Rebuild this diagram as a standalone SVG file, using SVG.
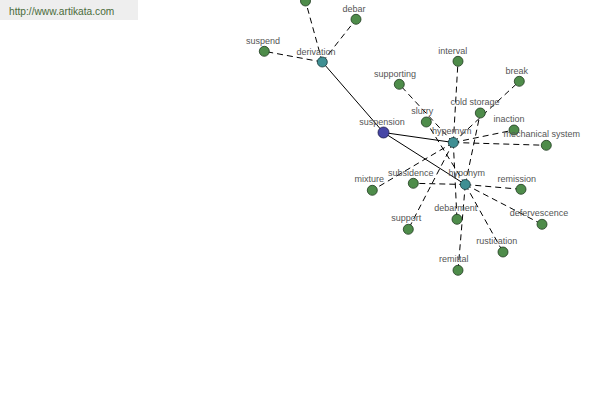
<svg xmlns="http://www.w3.org/2000/svg" width="600" height="400" viewBox="0 0 600 400">
<style>
.lbl{font-family:"Liberation Sans",Arial,sans-serif;font-size:9px;fill:#555;text-anchor:middle}
.g{fill:#4e8c4a;stroke:#1e3a1e;stroke-width:0.8}
.t{fill:#3f8f93;stroke:#1a3a3c;stroke-width:0.8}
.b{fill:#4646a6;stroke:#1c1c4a;stroke-width:0.8}
.d{stroke:#000;stroke-width:1;stroke-dasharray:6,4;fill:none}
.s{stroke:#000;stroke-width:1;fill:none}
</style>
<rect x="0" y="0" width="600" height="400" fill="#fff"/>
<rect x="0" y="0" width="138" height="20" fill="#eeeeee"/>
<text x="9" y="15" font-family="Liberation Sans,Arial,sans-serif" font-size="10.2" fill="#4a6b3a">http://www.artikata.com</text>
<g id="connectors">
<line class="s" x1="383.5" y1="132.5" x2="322.3" y2="62"/>
<line class="s" x1="383.5" y1="132.5" x2="453.3" y2="142.5"/>
<line class="s" x1="383.5" y1="132.5" x2="465.3" y2="184.5"/>
<line class="d" x1="322.3" y1="62" x2="305.5" y2="1"/>
<line class="d" x1="322.3" y1="62" x2="356" y2="19.3"/>
<line class="d" x1="322.3" y1="62" x2="264.3" y2="51.3"/>
<line class="d" x1="453.3" y1="142.5" x2="458" y2="61.3"/>
<line class="d" x1="453.3" y1="142.5" x2="519.3" y2="81.3"/>
<line class="d" x1="453.3" y1="142.5" x2="399.3" y2="84.3"/>
<line class="d" x1="453.3" y1="142.5" x2="514" y2="130"/>
<line class="d" x1="453.3" y1="142.5" x2="546.3" y2="145.3"/>
<line class="d" x1="453.3" y1="142.5" x2="372.3" y2="190.3"/>
<line class="d" x1="453.3" y1="142.5" x2="408.3" y2="229.3"/>
<line class="d" x1="453.3" y1="142.5" x2="457" y2="219.3"/>
<line class="d" x1="465.3" y1="184.5" x2="426.3" y2="122"/>
<line class="d" x1="465.3" y1="184.5" x2="480.3" y2="113"/>
<line class="d" x1="465.3" y1="184.5" x2="413.3" y2="183.3"/>
<line class="d" x1="465.3" y1="184.5" x2="521" y2="189.3"/>
<line class="d" x1="465.3" y1="184.5" x2="542" y2="224.3"/>
<line class="d" x1="465.3" y1="184.5" x2="503" y2="252"/>
<line class="d" x1="465.3" y1="184.5" x2="458" y2="270.3"/>
</g>
<g id="n-top"><circle class="g" cx="305.5" cy="1" r="5"/></g>
<g id="n-debar"><circle class="g" cx="356" cy="19.3" r="5"/><text class="lbl" x="354" y="11.5">debar</text></g>
<g id="n-suspend"><circle class="g" cx="264.3" cy="51.3" r="5"/><text class="lbl" x="263" y="43.5">suspend</text></g>
<g id="n-derivation"><circle class="t" cx="322.3" cy="62" r="5"/><text class="lbl" x="316" y="54.5">derivation</text></g>
<g id="n-supporting"><circle class="g" cx="399.3" cy="84.3" r="5"/><text class="lbl" x="395" y="76.5">supporting</text></g>
<g id="n-interval"><circle class="g" cx="458" cy="61.3" r="5"/><text class="lbl" x="452.7" y="53.5">interval</text></g>
<g id="n-break"><circle class="g" cx="519.3" cy="81.3" r="5"/><text class="lbl" x="516.7" y="73.5">break</text></g>
<g id="n-coldstorage"><circle class="g" cx="480.3" cy="113" r="5"/><text class="lbl" x="475" y="105">cold storage</text></g>
<g id="n-slurry"><circle class="g" cx="426.3" cy="122" r="5"/><text class="lbl" x="422.3" y="114">slurry</text></g>
<g id="n-inaction"><circle class="g" cx="514" cy="130" r="5"/><text class="lbl" x="509" y="122">inaction</text></g>
<g id="n-mechanical"><circle class="g" cx="546.3" cy="145.3" r="5"/><text class="lbl" x="541.7" y="137">mechanical system</text></g>
<g id="n-mixture"><circle class="g" cx="372.3" cy="190.3" r="5"/><text class="lbl" x="369.3" y="182">mixture</text></g>
<g id="n-subsidence"><circle class="g" cx="413.3" cy="183.3" r="5"/><text class="lbl" x="410.7" y="175.5">subsidence</text></g>
<g id="n-remission"><circle class="g" cx="521" cy="189.3" r="5"/><text class="lbl" x="516.7" y="181.5">remission</text></g>
<g id="n-debarment"><circle class="g" cx="457" cy="219.3" r="5"/><text class="lbl" x="455.7" y="211">debarment</text></g>
<g id="n-defervescence"><circle class="g" cx="542" cy="224.3" r="5"/><text class="lbl" x="539" y="216">defervescence</text></g>
<g id="n-support"><circle class="g" cx="408.3" cy="229.3" r="5"/><text class="lbl" x="406.3" y="221">support</text></g>
<g id="n-rustication"><circle class="g" cx="503" cy="252" r="5"/><text class="lbl" x="496.7" y="244">rustication</text></g>
<g id="n-remittal"><circle class="g" cx="458" cy="270.3" r="5"/><text class="lbl" x="453.7" y="262">remittal</text></g>
<g id="n-hypernym"><circle class="t" cx="453.3" cy="142.5" r="5"/><text class="lbl" x="451.7" y="134">hypernym</text></g>
<g id="n-hyponym"><circle class="t" cx="465.3" cy="184.5" r="5"/><text class="lbl" x="466.7" y="176">hyponym</text></g>
<g id="n-suspension"><circle class="b" cx="383.5" cy="132.5" r="5.5"/><text class="lbl" x="382" y="124.5">suspension</text></g>
</svg>
